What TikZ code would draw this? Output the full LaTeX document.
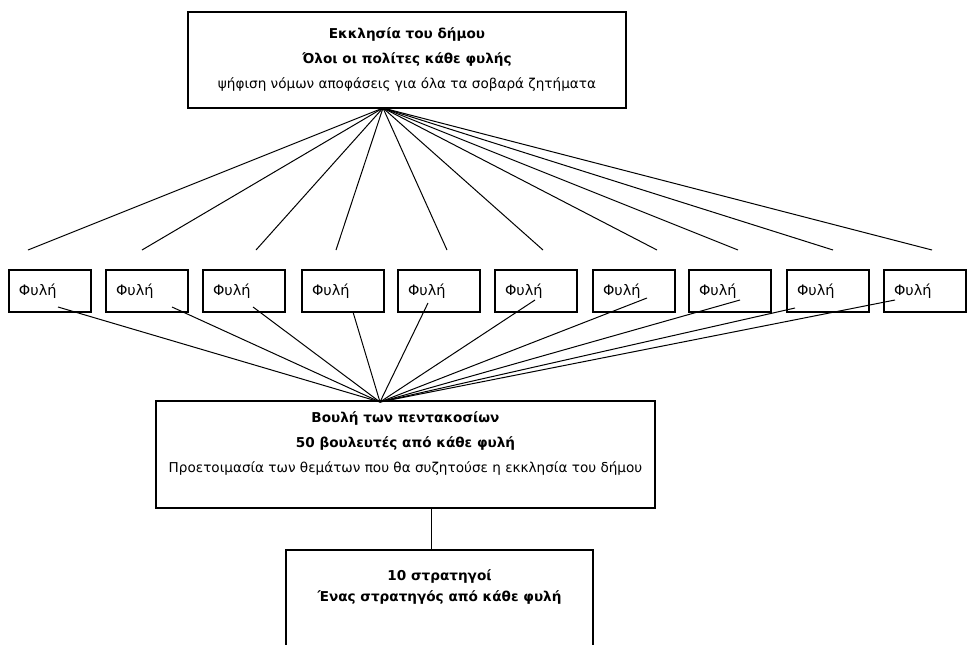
\documentclass[tikz,border=0pt]{standalone}
\usepackage{fontspec}
\setmainfont{DejaVu Sans}
\usetikzlibrary{positioning}
\tikzset{
  bigbox/.style={draw, line width=1.2pt, inner sep=0pt},
  phylebox/.style={draw, line width=1.2pt, minimum width=82pt, minimum height=42pt,
    text width=62pt, align=left, inner xsep=10pt, font=\fontsize{14.5}{16}\selectfont},
  boxtext/.style={align=center, inner sep=0pt, font=\fontsize{13.6}{25}\selectfont},
  link/.style={line width=1pt}
}
\begin{document}
\begin{tikzpicture}[x=1pt,y=-1pt]
  \useasboundingbox (0,0) rectangle (967,645);
  \clip (0,0) rectangle (967,645);

  % assembly
  \node[bigbox, minimum width=438pt, minimum height=96pt] (ekklesia) at (407,60) {};
  \node[boxtext, below=16pt of ekklesia.north] (ekklesiaText)
    {\textbf{Εκκλησία του δήμου}\\\textbf{Όλοι οι πολίτες κάθε φυλής}\\ψήφιση νόμων αποφάσεις για όλα τα σοβαρά ζητήματα};

  % council
  \node[bigbox, minimum width=499pt, minimum height=107pt] (boule) at (405.5,454.5) {};
  \node[boxtext, below=11pt of boule.north] (bouleText)
    {\textbf{Βουλή των πεντακοσίων}\\\textbf{50 βουλευτές από κάθε φυλή}\\Προετοιμασία των θεμάτων που θα συζητούσε η εκκλησία του δήμου};

  % generals
  \node[bigbox, minimum width=307pt, minimum height=130pt] (strategoi) at (439.5,615) {};
  \node[boxtext, below=20pt of strategoi.north, font=\fontsize{13.6}{21}\selectfont] (strategoiText)
    {\textbf{10 στρατηγοί}\\\textbf{Ένας στρατηγός από κάθε φυλή}};

  \coordinate (hubA) at (383,108);
  \coordinate (hubB) at (380,402);
  \coordinate (drop) at (431,0);

  % the ten tribes
  \foreach \i/\xl/\tx/\bx/\by in {1/9/28/58/307, 2/106/142/172/307, 3/203/256/253/307,
      4/302/336/353/312, 5/398/447/428/303, 6/495/543/535/300, 7/593/657/647/298,
      8/689/738/740/300, 9/787/833/795/308, 10/884/932/895/300} {
    \node[phylebox] (f\i) at (\xl+41,291) {Φυλή};
    \coordinate (t\i) at (\tx,250);
    \coordinate (b\i) at (\bx,\by);
    \draw[link] (hubA) -- (t\i);
    \draw[link] (b\i) -- (hubB);
  }

  \draw[link] (drop |- boule.south) -- (drop |- strategoi.north);
\end{tikzpicture}
\end{document}
